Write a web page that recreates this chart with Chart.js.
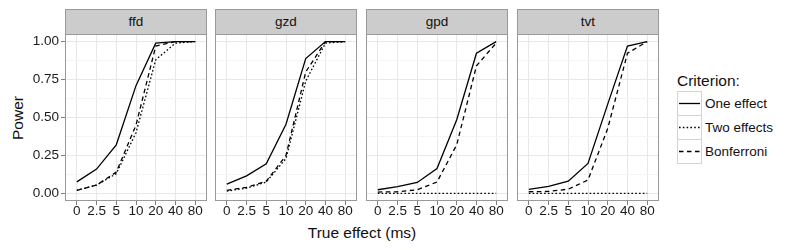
<!DOCTYPE html>
<html>
<head>
<meta charset="utf-8">
<script src="https://cdn.jsdelivr.net/npm/chart.js@4"></script>
<style>
  body { margin: 0; background: #fff; font-family: "Liberation Sans", Arial, sans-serif; color: #111; }
  #wrap { position: relative; width: 800px; height: 250px; overflow: hidden; }
  canvas { position: absolute; }
  .strip { position: absolute; top: 9px; height: 26px; width: 142px; box-sizing: border-box;
           background: #cccccc; border: 1px solid #999; font-size: 13.5px; line-height: 24px; text-align: center; }
  .title { position: absolute; font-size: 15.5px; line-height: 15px; white-space: nowrap; }
  .key { position: absolute; left: 677px; width: 25px; height: 25px; box-sizing: border-box; border: 1px solid #d4d4d4; }
  .klab { position: absolute; left: 705px; font-size: 13.5px; line-height: 13px; white-space: nowrap; }
</style>
</head>
<body>
<div id="wrap">
  <div class="title" style="left:17px;top:118px;transform:translate(-50%,-50%) rotate(-90deg);">Power</div>
  <div class="title" style="left:362px;top:225px;transform:translateX(-50%);">True effect (ms)</div>
  <div class="title" style="left:677px;top:73px;">Criterion:</div>
</div>
<script>
// facets, categories, series
const panels = ['ffd', 'gzd', 'gpd', 'tvt'];
const xLabels = ['0', '2.5', '5', '10', '20', '40', '80'];
const seriesNames = ['One effect', 'Two effects', 'Bonferroni'];
const yMajor = [0, 0.25, 0.5, 0.75, 1];
const yMinor = [0.125, 0.375, 0.625, 0.875];

// power values
const ffdOne  = [0.076, 0.16, 0.32, 0.71, 0.99, 1.0, 1.0];
const ffdTwo  = [0.02, 0.055, 0.13, 0.40, 0.88, 0.99, 1.0];
const ffdBonf = [0.02, 0.055, 0.14, 0.45, 0.97, 1.0, 1.0];

const gzdOne  = [0.061, 0.116, 0.195, 0.456, 0.888, 1.0, 1.0];
const gzdTwo  = [0.015, 0.035, 0.075, 0.23, 0.74, 0.99, 1.0];
const gzdBonf = [0.02, 0.04, 0.08, 0.25, 0.80, 1.0, 1.0];

const gpdOne  = [0.024, 0.044, 0.072, 0.164, 0.485, 0.923, 1.0];
const gpdTwo  = [0, 0, 0, 0, 0, 0, 0];
const gpdBonf = [0.009, 0.011, 0.024, 0.075, 0.32, 0.84, 0.99];

const tvtOne  = [0.026, 0.046, 0.081, 0.197, 0.588, 0.97, 1.0];
const tvtTwo  = [0, 0, 0, 0, 0, 0, 0];
const tvtBonf = [0.011, 0.013, 0.028, 0.088, 0.428, 0.923, 1.0];

const panelData = [
  [ffdOne, ffdTwo, ffdBonf],
  [gzdOne, gzdTwo, gzdBonf],
  [gpdOne, gpdTwo, gpdBonf],
  [tvtOne, tvtTwo, tvtBonf],
];
const dashes = [[], [1.6, 2.2], [4.5, 3.5]];

const panelLeft = [65, 215, 366, 517];
const panelW = 142, plotTop = 34, plotH = 167, xAxisH = 30, yAxisW = 65;
const wrap = document.getElementById('wrap');

const borderPlugin = {
  id: 'panelBorder',
  afterDraw(chart) {
    const { ctx, chartArea: a } = chart;
    ctx.save();
    ctx.strokeStyle = '#999';
    ctx.lineWidth = 1;
    ctx.strokeRect(a.left + 0.5, a.top + 0.5, a.right - a.left - 1, a.bottom - a.top - 1);
    ctx.restore();
  }
};

const font = { family: "'Liberation Sans', Arial, sans-serif", size: 13.5 };

panels.forEach((name, p) => {
  const strip = document.createElement('div');
  strip.className = 'strip';
  strip.style.left = panelLeft[p] + 'px';
  strip.textContent = name;
  wrap.appendChild(strip);

  const first = p === 0;
  const cv = document.createElement('canvas');
  const w = panelW + (first ? yAxisW : 0);
  cv.width = w; cv.height = plotH + xAxisH;
  cv.style.left = (first ? 0 : panelLeft[p]) + 'px';
  cv.style.top = plotTop + 'px';
  cv.style.width = w + 'px'; cv.style.height = (plotH + xAxisH) + 'px';
  wrap.appendChild(cv);

  new Chart(cv, {
    type: 'line',
    data: {
      datasets: panelData[p].map((vals, s) => ({
        label: seriesNames[s],
        data: vals.map((v, i) => ({ x: i, y: v })),
        borderColor: '#000', borderWidth: 1.3, borderDash: dashes[s],
        pointRadius: 0, tension: 0, fill: false,
      }))
    },
    options: {
      responsive: false, animation: false, devicePixelRatio: 1,
      layout: { padding: 0 },
      plugins: { legend: { display: false }, tooltip: { enabled: false } },
      scales: {
        x: {
          type: 'linear', min: -0.6, max: 6.6,
          afterBuildTicks: s => { s.ticks = xLabels.map((_, i) => ({ value: i })); },
          afterFit: s => { s.height = xAxisH; s.paddingLeft = 0; s.paddingRight = 0; },
          ticks: { callback: v => xLabels[v], autoSkip: false, maxRotation: 0, minRotation: 0,
                   color: '#1a1a1a', font, padding: -2 },
          grid: { color: '#e8e8e8', tickColor: '#7f7f7f', tickLength: 4 },
          border: { display: false },
        },
        y: {
          min: -0.05, max: 1.05,
          afterBuildTicks: s => { s.ticks = [...yMajor, ...yMinor].sort((a, b) => a - b).map(v => ({ value: v })); },
          afterFit: s => { s.width = first ? yAxisW : 0; s.paddingTop = 0; s.paddingBottom = 0; },
          ticks: { display: first, autoSkip: false, color: '#1a1a1a', font, padding: 2,
                   callback: v => yMajor.includes(v) ? v.toFixed(2) : '' },
          grid: {
            color: c => yMajor.includes(c.tick.value) ? '#e8e8e8' : '#f4f4f4',
            tickColor: c => yMajor.includes(c.tick.value) ? '#7f7f7f' : 'rgba(0,0,0,0)',
            tickLength: 4, drawTicks: first,
          },
          border: { display: false },
        }
      }
    },
    plugins: [borderPlugin]
  });
});

// legend
const keyTop = [91, 115, 139];
seriesNames.forEach((n, s) => {
  const k = document.createElement('div');
  k.className = 'key';
  k.style.top = keyTop[s] + 'px';
  k.innerHTML = '<svg width="23" height="23" style="display:block"><line x1="1" y1="11.5" x2="22" y2="11.5" stroke="#000" stroke-width="1.3" stroke-dasharray="' +
    (dashes[s].length ? dashes[s].join(',') : 'none') + '"/></svg>';
  wrap.appendChild(k);
  const l = document.createElement('div');
  l.className = 'klab';
  l.style.top = (keyTop[s] + 6) + 'px';
  l.textContent = n;
  wrap.appendChild(l);
});
</script>
</body>
</html>
